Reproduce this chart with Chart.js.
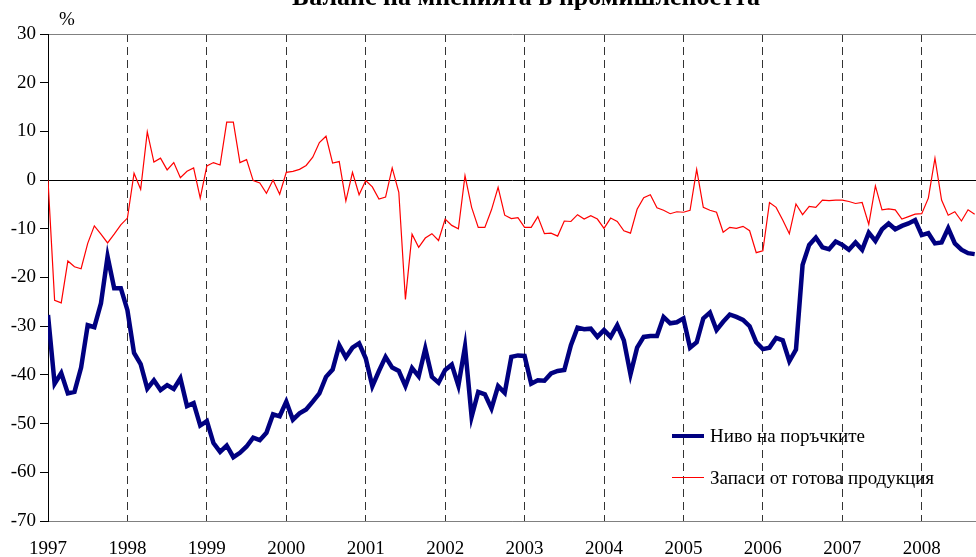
<!DOCTYPE html>
<html lang="bg">
<head>
    <meta charset="UTF-8">
    <title>Баланс на мненията в промишлеността</title>
    <script src="https://cdn.jsdelivr.net/npm/chart.js"></script>
    <style>
        body { margin: 0; background: #fff; font-family: "Liberation Serif", "Times New Roman", serif; }
        #wrap { position: relative; width: 976px; height: 557px; overflow: hidden; }
        #title { position: absolute; left: 0; width: 1052px; top: -17px; text-align: center;
                 font-size: 26px; font-weight: bold; line-height: 28px; }
        #pct { position: absolute; left: 59px; top: 8px; font-size: 19px; }
        .leg { position: absolute; left: 710px; font-size: 19px; white-space: nowrap; line-height: 22px; }
        .mark { position: absolute; left: 672px; width: 32px; }
    </style>
</head>
<body>
<div id="wrap">
    <canvas id="chart" width="976" height="557"></canvas>
    <div id="title">Баланс на мненията в промишлеността</div>
    <div id="pct">%</div>
    <div class="mark" style="top:434px; height:4px; background:#000080"></div>
    <div class="leg" style="top:425px">Ниво на поръчките</div>
    <div class="mark" style="top:477px; height:1px; background:#ff0000"></div>
    <div class="leg" style="top:467px">Запаси от готова продукция</div>
</div>
<script>
    // monthly data, Jan 1997 .. Sep 2008
    const years = ['1997', '1998', '1999', '2000', '2001', '2002', '2003', '2004', '2005', '2006', '2007', '2008'];
    const yTicks = [30, 20, 10, 0, -10, -20, -30, -40, -50, -60, -70];

    const orders = [
        -27.7, -41.8, -39.6, -43.8, -43.5, -38.5, -29.8, -30.2, -25.3, -15.7, -22.2, -22.2,
        -26.7, -35.5, -37.8, -42.8, -41.1, -43.1, -42.1, -42.9, -40.7, -46.4, -45.8, -50.4,
        -49.5, -54.0, -55.8, -54.5, -56.9, -56.0, -54.7, -52.9, -53.4, -51.9, -48.1, -48.5,
        -45.5, -49.2, -47.9, -47.1, -45.5, -43.8, -40.4, -38.9, -33.9, -36.4, -34.4, -33.5,
        -36.6, -42.3, -39.2, -36.3, -38.5, -39.2, -42.3, -38.6, -40.3, -34.6, -40.4, -41.6,
        -39.0, -37.9, -42.2, -34.2, -48.6, -43.5, -44.0, -46.9, -42.3, -43.7, -36.3, -36.0,
        -36.1, -41.8, -41.1, -41.2, -39.7, -39.2, -39.0, -33.9, -30.3, -30.6, -30.5, -32.2,
        -30.8, -32.2, -29.8, -32.9, -39.9, -34.4, -32.2, -32.0, -32.0, -28.1, -29.4, -29.2,
        -28.4, -34.4, -33.3, -28.4, -27.2, -30.8, -29.1, -27.6, -28.1, -28.7, -30.0, -33.3,
        -34.7, -34.4, -32.4, -32.9, -37.2, -34.8, -17.4, -13.3, -11.8, -13.8, -14.2, -12.6,
        -13.3, -14.3, -12.8, -14.3, -10.8, -12.5, -10.1, -8.9, -10.1, -9.4, -8.9, -8.2,
        -11.3, -10.9, -13.0, -12.8, -9.9, -13.0, -14.3, -15.0, -15.2
    ];

    const stocks = [
        0.0, -24.7, -25.2, -16.6, -17.8, -18.2, -13.0, -9.4, -11.1, -12.9, -11.1, -9.2,
        -7.8, 1.4, -1.9, 9.9, 3.7, 4.5, 2.1, 3.6, 0.5, 1.8, 2.5, -3.7,
        2.9, 3.6, 3.1, 11.9, 11.9, 3.6, 4.2, -0.1, -0.6, -2.7, 0.0, -2.9,
        1.6, 1.8, 2.2, 3.0, 4.7, 7.7, 9.0, 3.5, 3.8, -4.3, 1.6, -3.0,
        -0.1, -1.4, -3.9, -3.5, 2.5, -2.5, -24.5, -11.1, -13.8, -11.9, -11.0, -12.4,
        -8.0, -9.3, -10.0, 0.9, -5.6, -9.7, -9.7, -6.1, -1.5, -7.2, -7.9, -7.7,
        -9.7, -9.7, -7.5, -11.0, -10.9, -11.5, -8.4, -8.5, -7.1, -8.0, -7.3, -8.0,
        -9.9, -7.8, -8.5, -10.4, -10.9, -6.0, -3.6, -3.0, -5.7, -6.2, -6.9, -6.5,
        -6.6, -6.2, 2.2, -5.6, -6.2, -6.6, -10.7, -9.7, -9.9, -9.5, -10.4, -14.9,
        -14.5, -4.6, -5.6, -8.2, -11.0, -4.9, -7.1, -5.4, -5.6, -4.1, -4.2, -4.1,
        -4.1, -4.4, -4.8, -4.6, -9.1, -1.2, -6.1, -5.9, -6.1, -8.0, -7.5, -7.0,
        -6.9, -3.7, 4.5, -4.1, -7.2, -6.5, -8.4, -6.1, -7.0
    ];

    const toPoints = arr => arr.map((v, i) => ({ x: i, y: v }));
    const serif = { family: '"Liberation Serif", "Times New Roman", serif', size: 19 };

    new Chart(document.getElementById('chart').getContext('2d'), {
        type: 'line',
        data: {
            datasets: [
                {
                    label: 'Ниво на поръчките',
                    data: toPoints(orders),
                    borderColor: '#000080',
                    borderWidth: 4.5,
                    pointRadius: 0,
                    tension: 0
                },
                {
                    label: 'Запаси от готова продукция',
                    data: toPoints(stocks),
                    borderColor: '#ff0000',
                    borderWidth: 1.2,
                    pointRadius: 0,
                    tension: 0
                }
            ]
        },
        options: {
            responsive: false,
            animation: false,
            layout: { padding: { top: 34, right: 0, left: 0, bottom: 0 } },
            plugins: { legend: { display: false }, tooltip: { enabled: false } },
            scales: {
                x: {
                    type: 'linear',
                    min: 0,
                    max: 140.2,
                    afterBuildTicks: scale => {
                        scale.ticks = years.map((y, i) => ({ value: i * 12 }));
                    },
                    afterFit: scale => { scale.height = 36; },
                    ticks: {
                        color: '#000',
                        font: serif,
                        padding: 17,
                        maxRotation: 0,
                        autoSkip: false,
                        callback: v => years[v / 12]
                    },
                    grid: {
                        drawTicks: false,
                        color: ctx => ctx.tick && ctx.tick.value === 0 ? 'rgba(0,0,0,0)' : '#333',
                        lineWidth: 1
                    },
                    border: { display: true, color: '#808080', dash: [8, 5] }
                },
                y: {
                    min: -70,
                    max: 30,
                    afterBuildTicks: scale => {
                        scale.ticks = yTicks.map(v => ({ value: v }));
                    },
                    afterFit: scale => { scale.width = 48; },
                    ticks: { color: '#000', font: serif, padding: 4 },
                    grid: {
                        tickLength: 8,
                        tickColor: '#000',
                        color: ctx => {
                            const v = ctx.tick ? ctx.tick.value : null;
                            if (v === 0) return '#000';
                            if (v === 30 || v === -70) return '#808080';
                            return 'rgba(0,0,0,0)';
                        }
                    },
                    border: { display: true, color: '#000' }
                }
            }
        }
    });
</script>
</body>
</html>
